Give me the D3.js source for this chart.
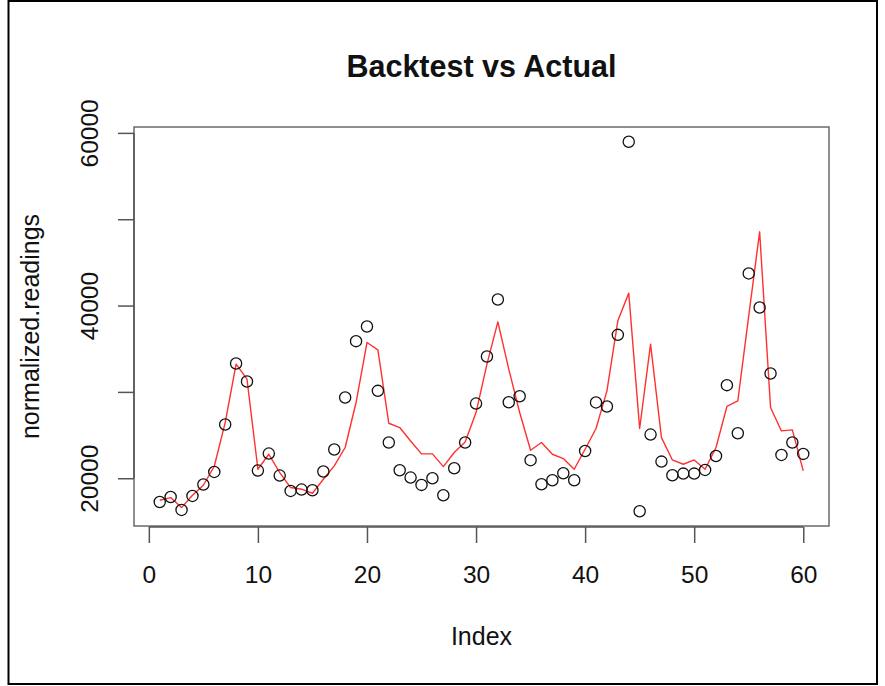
<!DOCTYPE html>
<html>
<head>
<meta charset="utf-8">
<script src="https://cdn.jsdelivr.net/npm/d3@7/dist/d3.min.js"></script>
<style>
  html, body { margin: 0; padding: 0; background: #fff; }
  svg { display: block; }
  text { font-family: "Liberation Sans", Arial, Helvetica, sans-serif; fill: #111; }
</style>
</head>
<body>
<svg id="chart" width="885" height="686"></svg>
<script>
// Observed readings (circles) and backtest fit (red line), indexed 1..60
const indexValues = d3.range(1, 61);

const actualReadings = [
  17250, 17830, 16330, 17950, 19270, 20730, 26220, 33290, 31200, 20890,
  22860, 20310, 18530, 18690, 18610, 20780, 23330, 29350, 35880, 37580,
  30120, 24140, 20930, 20080, 19230, 20000, 18030, 21160, 24140, 28650,
  34100, 40700, 28800, 29500, 22090, 19300, 19770, 20580, 19770, 23160,
  28780, 28310, 36610, 58970, 16180, 25060, 21930, 20350, 20540, 20540,
  20960, 22580, 30780, 25210, 43720, 39780, 32130, 22700, 24140, 22820
];

const backtestValues = [
  17450, 17760, 16600, 18030, 19190, 21390, 26450, 33210, 31470, 21040,
  22780, 20660, 18920, 18730, 18260, 19880, 21430, 23560, 28770, 35720,
  34870, 26370, 25870, 24320, 22820, 22820, 21350, 22980, 24210, 27610,
  33210, 38110, 32630, 27610, 23240, 24140, 22780, 22280, 21040, 23360,
  25760, 30120, 38230, 41440, 25760, 35530, 24710, 22120, 21620, 22120,
  21040, 23560, 28310, 28960, 38810, 48540, 28190, 25480, 25600, 20850
];

const xTicks = [0, 10, 20, 30, 40, 50, 60];
const yTicks = [20000, 30000, 40000, 50000, 60000];
const yTickLabels = ["20000", "", "40000", "", "60000"];

const titleText = "Backtest vs Actual";
const xLabel = "Index";
const yLabel = "normalized.readings";

// Plot region
const box = { left: 134, right: 829, top: 127, bottom: 526 };

// R-style 4% extension of the data range on both axes
function padded(lo, hi) {
  const r = hi - lo;
  return [lo - 0.04 * r, hi + 0.04 * r];
}

const x = d3.scaleLinear()
  .domain(padded(d3.min(indexValues), d3.max(indexValues)))
  .range([box.left, box.right]);

const y = d3.scaleLinear()
  .domain(padded(d3.min(actualReadings), d3.max(actualReadings)))
  .range([box.bottom, box.top]);

const svg = d3.select("#chart");

// Outer frame
svg.append("rect")
  .attr("x", 8.5).attr("y", 1).attr("width", 868.5).attr("height", 683)
  .attr("fill", "none").attr("stroke", "#000").attr("stroke-width", 2);

// Title
svg.append("text")
  .attr("x", (box.left + box.right) / 2).attr("y", 77)
  .attr("text-anchor", "middle")
  .style("font-size", "30.5px").style("font-weight", "bold")
  .text(titleText);

// Backtest line
const line = d3.line()
  .x((d, i) => x(indexValues[i]))
  .y(d => y(d));

svg.append("path")
  .datum(backtestValues)
  .attr("d", line)
  .attr("fill", "none")
  .attr("stroke", "#ff3030")
  .attr("stroke-width", 1.4)
  .attr("stroke-linejoin", "round");

// Actual readings as open circles
svg.append("g")
  .selectAll("circle")
  .data(actualReadings)
  .join("circle")
  .attr("cx", (d, i) => x(indexValues[i]))
  .attr("cy", d => y(d))
  .attr("r", 5.6)
  .attr("fill", "none")
  .attr("stroke", "#111")
  .attr("stroke-width", 1.3);

// Plot box
svg.append("rect")
  .attr("x", box.left).attr("y", box.top)
  .attr("width", box.right - box.left).attr("height", box.bottom - box.top)
  .attr("fill", "none").attr("stroke", "#6a6a6a").attr("stroke-width", 1.5);

// X axis
const xAxis = svg.append("g")
  .attr("transform", `translate(0,${box.bottom + 1})`)
  .call(d3.axisBottom(x).tickValues(xTicks).tickSize(16).tickPadding(23)
    .tickFormat(d3.format("d")));
xAxis.select(".domain").remove();
xAxis.append("line")
  .attr("x1", x(xTicks[0])).attr("x2", x(xTicks[xTicks.length - 1]))
  .attr("stroke", "#555").attr("stroke-width", 1.5);
xAxis.selectAll(".tick line").attr("stroke", "#555").attr("stroke-width", 1.5);
xAxis.selectAll(".tick text")
  .attr("fill", "#111")
  .style("font-size", "24.5px")
  .style("font-family", "Liberation Sans, Arial, sans-serif");

// Y axis
const yAxis = svg.append("g")
  .attr("transform", `translate(${box.left},0)`)
  .call(d3.axisLeft(y).tickValues(yTicks).tickSize(16)
    .tickFormat((d, i) => yTickLabels[i]));
yAxis.select(".domain").remove();
yAxis.append("line")
  .attr("y1", y(yTicks[0])).attr("y2", y(yTicks[yTicks.length - 1]))
  .attr("stroke", "#555").attr("stroke-width", 1.5);
yAxis.selectAll(".tick line").attr("stroke", "#555").attr("stroke-width", 1.5);
yAxis.selectAll(".tick text")
  .attr("x", null).attr("dy", null)
  .attr("fill", "#111")
  .attr("text-anchor", "middle")
  .attr("transform", "translate(-36,0) rotate(-90)")
  .attr("y", 0)
  .style("font-size", "24.5px")
  .style("font-family", "Liberation Sans, Arial, sans-serif");

// Axis titles
svg.append("text")
  .attr("x", (box.left + box.right) / 2).attr("y", 645)
  .attr("text-anchor", "middle")
  .style("font-size", "25px")
  .text(xLabel);

svg.append("text")
  .attr("transform", `translate(39,${(box.top + box.bottom) / 2}) rotate(-90)`)
  .attr("text-anchor", "middle")
  .style("font-size", "25px")
  .text(yLabel);
</script>
</body>
</html>
